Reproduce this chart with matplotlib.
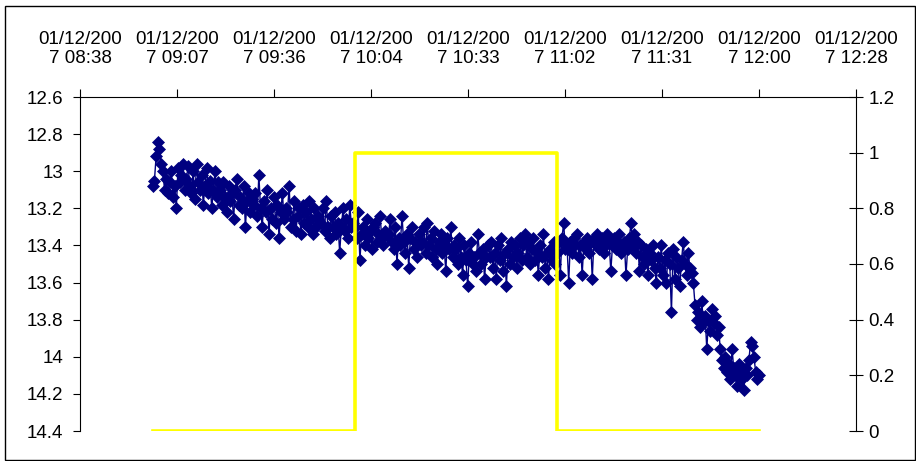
import matplotlib.pyplot as plt
from matplotlib.patches import Rectangle

plt.rcParams['font.family'] = ['Liberation Sans', 'DejaVu Sans']

# readings every 30 s, starting 09:00 (left axis, inverted)
start_hour = 9.0
step_min = 0.5

readings_09 = [
    13.08, 13.05, 12.92, 12.84, 12.88, 12.96, 13.0, 13.1, 13.04, 13.12, 13.06, 13.0, 13.14, 13.08, 13.2, 12.98, 13.06, 13.02, 12.96, 13.1,
    13.04, 12.97, 13.08, 13.12, 13.0, 13.15, 12.96, 13.06, 13.1, 13.02, 13.18, 13.08, 12.98, 13.12, 13.05, 13.2, 13.1, 13.0, 13.14, 13.06,
    13.1, 13.18, 13.06, 13.14, 13.22, 13.08, 13.16, 13.12, 13.26, 13.1, 13.04, 13.18, 13.14, 13.2, 13.08, 13.3, 13.16, 13.12, 13.22, 13.15,
    13.18, 13.12, 13.24, 13.02, 13.2, 13.3, 13.16, 13.22, 13.1, 13.34, 13.2, 13.26, 13.14, 13.28, 13.18, 13.36, 13.22, 13.12, 13.26, 13.2,
    13.22, 13.08, 13.3, 13.26, 13.16, 13.32, 13.24, 13.2, 13.34, 13.18, 13.28, 13.22, 13.3, 13.16, 13.26, 13.34, 13.2, 13.3, 13.24, 13.28,
    13.28, 13.2, 13.32, 13.16, 13.3, 13.36, 13.24, 13.3, 13.22, 13.34, 13.28, 13.44, 13.3, 13.2, 13.32, 13.26, 13.36, 13.18, 13.3, 13.28,
]
readings_10 = [
    13.3, 13.36, 13.22, 13.48, 13.34, 13.3, 13.4, 13.26, 13.36, 13.32, 13.42, 13.3, 13.28, 13.38, 13.34, 13.24, 13.36, 13.4, 13.32, 13.35,
    13.34, 13.26, 13.38, 13.42, 13.3, 13.5, 13.36, 13.4, 13.24, 13.38, 13.44, 13.34, 13.52, 13.36, 13.3, 13.42, 13.38, 13.46, 13.34, 13.4,
    13.38, 13.3, 13.44, 13.28, 13.4, 13.36, 13.46, 13.32, 13.42, 13.5, 13.38, 13.34, 13.44, 13.4, 13.54, 13.36, 13.42, 13.3, 13.46, 13.4,
    13.42, 13.5, 13.36, 13.46, 13.56, 13.4, 13.48, 13.62, 13.44, 13.38, 13.5, 13.46, 13.54, 13.34, 13.44, 13.5, 13.42, 13.58, 13.46, 13.4,
    13.46, 13.38, 13.52, 13.44, 13.58, 13.4, 13.48, 13.36, 13.54, 13.44, 13.62, 13.42, 13.5, 13.38, 13.46, 13.4, 13.52, 13.44, 13.36, 13.48,
    13.4, 13.34, 13.46, 13.38, 13.5, 13.42, 13.36, 13.48, 13.44, 13.56, 13.4, 13.46, 13.34, 13.52, 13.44, 13.58, 13.42, 13.48, 13.38, 13.5,
]
readings_11 = [
    13.44, 13.38, 13.56, 13.36, 13.28, 13.42, 13.4, 13.6, 13.38, 13.44, 13.36, 13.4, 13.34, 13.46, 13.4, 13.56, 13.38, 13.42, 13.36, 13.44,
    13.38, 13.58, 13.36, 13.4, 13.34, 13.42, 13.38, 13.36, 13.44, 13.4, 13.34, 13.38, 13.54, 13.4, 13.36, 13.42, 13.38, 13.34, 13.44, 13.4,
    13.38, 13.56, 13.42, 13.36, 13.28, 13.4, 13.34, 13.44, 13.38, 13.54, 13.4, 13.46, 13.5, 13.42, 13.56, 13.44, 13.48, 13.4, 13.52, 13.6,
    13.46, 13.52, 13.4, 13.56, 13.48, 13.6, 13.44, 13.5, 13.76, 13.42, 13.58, 13.46, 13.52, 13.62, 13.48, 13.38, 13.5, 13.56, 13.44, 13.52,
    13.55, 13.6, 13.72, 13.8, 13.76, 13.84, 13.7, 13.82, 13.78, 13.96, 13.8, 13.86, 13.74, 13.82, 13.78, 13.88, 13.84, 13.96, 14.02, 14.06,
    14.0, 14.08, 14.04, 14.12, 13.96, 14.06, 14.1, 14.16, 14.04, 14.08, 14.12, 14.18, 14.06, 14.1, 14.02, 13.92, 13.94, 14.0, 14.08, 14.12,
    14.1,
]

# on/off signal (right axis)
pulse_hours = [9, 10, 10, 11, 11, 12]
pulse_vals = [0, 0, 1, 1, 0, 0]

tick_days = [0.36, 0.38, 0.40, 0.42, 0.44, 0.46, 0.48, 0.50, 0.52]
tick_labels = ["01/12/200\n7 08:38", "01/12/200\n7 09:07", "01/12/200\n7 09:36",
               "01/12/200\n7 10:04", "01/12/200\n7 10:33", "01/12/200\n7 11:02",
               "01/12/200\n7 11:31", "01/12/200\n7 12:00", "01/12/200\n7 12:28"]
left_ticks = [12.6, 12.8, 13.0, 13.2, 13.4, 13.6, 13.8, 14.0, 14.2, 14.4]
left_labels = ["12.6", "12.8", "13", "13.2", "13.4", "13.6", "13.8", "14", "14.2", "14.4"]
right_ticks = [0, 0.2, 0.4, 0.6, 0.8, 1.0, 1.2]
right_labels = ["0", "0.2", "0.4", "0.6", "0.8", "1", "1.2"]

readings = readings_09 + readings_10 + readings_11
times = [(start_hour + i * step_min / 60) / 24 for i in range(len(readings))]
pulse_days = [h / 24 for h in pulse_hours]

fs = 13.5

fig = plt.figure(figsize=(9.16, 4.61), dpi=100)
fig.patches.append(Rectangle((5 / 916, 1 / 461), 910 / 916, 454 / 461, transform=fig.transFigure,
                             fill=False, edgecolor='black', linewidth=1))
ax = fig.add_axes([80 / 916, 30 / 461, 776 / 916, 334 / 461])

ax.plot(times, readings, color='#000080', linewidth=1, marker='D', markersize=6.5,
        markeredgewidth=0.5)
ax.set_xlim(tick_days[0], tick_days[-1])
ax.set_ylim(14.4, 12.6)
ax.set_yticks(left_ticks)
ax.set_yticklabels(left_labels)
ax.xaxis.tick_top()
ax.set_xticks(tick_days)
ax.set_xticklabels(tick_labels, linespacing=1.15)
ax.tick_params(axis='x', direction='out', length=6, pad=15.5, labelsize=fs)
ax.tick_params(axis='y', direction='out', length=5, pad=7, labelsize=fs)
ax.spines['bottom'].set_visible(False)
ax.spines['right'].set_visible(False)

ax2 = ax.twinx()
ax2.plot(pulse_days, pulse_vals, color='#FFFF00', linewidth=2.6)
ax2.set_ylim(0, 1.2)
ax2.set_yticks(right_ticks)
ax2.set_yticklabels(right_labels)
ax2.tick_params(axis='y', direction='inout', length=10, pad=4, labelsize=fs)
ax2.spines['bottom'].set_visible(False)
ax2.spines['top'].set_visible(False)
ax2.spines['left'].set_visible(False)
ax2.xaxis.set_visible(False)

fig.savefig('out.png', dpi=100)
